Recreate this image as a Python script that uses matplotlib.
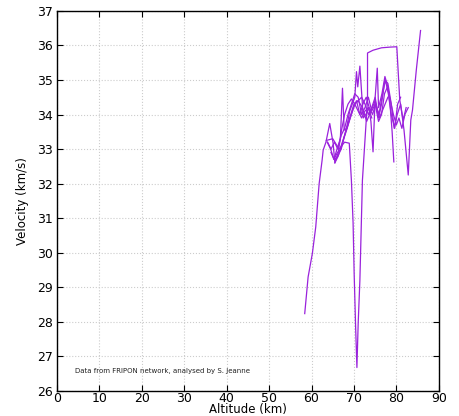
import matplotlib.pyplot as plt
import numpy as np

# velocity tracks (altitude km, velocity km/s)
alt_1 = [58.4, 59.2, 60.2, 61.0, 61.8, 62.5, 62.75, 63.4, 64.3, 65.1, 65.5, 66.3, 67.0, 67.8, 68.6, 69.4, 70.2, 71.0, 71.8, 72.6, 73.4, 74.2]
vel_1 = [28.24, 29.3, 29.98, 30.75, 32.0, 32.68, 32.97, 33.2, 33.74, 33.16, 32.6, 32.9, 33.5, 34.0, 34.3, 34.45, 34.3, 34.1, 33.9, 34.1, 34.2, 33.9]

alt_2 = [82.3, 81.6, 80.8, 80.1, 78.5, 76.5, 74.5, 73.2, 73.2, 72.0, 71.4, 71.0, 70.7, 70.4, 70.05, 69.8, 69.4, 68.9, 67.8, 66.5, 65.0, 63.5]
vel_2 = [34.2, 33.84, 34.42, 35.96, 35.95, 35.93, 35.86, 35.78, 34.42, 32.1, 29.2, 27.96, 26.68, 27.84, 29.4, 30.86, 32.1, 33.17, 33.2, 33.0, 33.3, 33.25]

alt_3 = [85.7, 84.7, 83.8, 83.4, 82.8, 81.8, 81.0, 80.2, 79.5, 78.8, 78.0, 77.3, 76.5, 75.8, 75.0, 74.2, 73.4, 72.6, 71.8, 71.0, 70.2, 69.4, 68.6, 67.8, 67.0, 66.2, 65.5]
vel_3 = [36.43, 35.29, 34.13, 33.84, 32.25, 33.55, 34.3, 34.0, 33.6, 34.3, 34.9, 35.0, 34.3, 33.9, 34.5, 34.2, 34.0, 34.3, 34.5, 34.4, 34.3, 34.0, 33.7, 33.4, 33.0, 32.8, 32.7]

alt_4 = [78.0, 77.0, 76.0, 75.0, 74.0, 73.0, 72.0, 71.0, 70.0, 69.0, 68.3, 67.7, 67.3, 66.8, 66.0, 65.3, 64.6]
vel_4 = [34.5, 34.2, 33.9, 34.4, 34.1, 33.8, 34.2, 34.4, 34.3, 33.9, 33.6, 33.55, 34.76, 33.3, 33.0, 32.7, 32.9]

alt_5 = [79.4, 79.0, 78.5, 78.0, 77.3, 76.6, 75.8, 75.5, 75.0, 74.5, 74.0, 73.5, 72.8, 72.2, 71.4, 70.9, 70.6, 70.2, 69.6, 69.0, 68.4, 67.8, 67.0, 66.3, 65.5]
vel_5 = [32.63, 33.5, 34.3, 34.8, 35.1, 34.6, 34.2, 35.34, 34.5, 32.92, 33.8, 34.2, 34.0, 33.9, 35.4, 34.8, 35.24, 34.5, 34.3, 34.1, 33.7, 33.4, 33.1, 32.8, 32.6]

alt_6 = [82.8, 82.0, 81.3, 80.6, 80.0, 79.3, 78.6, 77.9, 77.2, 76.5, 75.8, 75.0, 74.2, 73.4, 72.6, 71.8, 71.0, 70.2, 69.4, 68.6, 67.8, 67.0, 66.2, 65.4, 64.6, 63.8]
vel_6 = [34.2, 34.0, 33.6, 33.9, 33.7, 34.0, 34.4, 34.8, 34.6, 34.0, 33.8, 34.3, 34.1, 34.5, 34.2, 34.0, 34.5, 34.6, 34.3, 34.0, 33.6, 33.4, 33.0, 33.2, 33.0, 33.2]

alt_7 = [81.0, 80.3, 79.6, 78.8, 78.1, 77.4, 76.6, 75.9, 75.1, 74.4, 73.6, 72.9, 72.1, 71.4, 70.6, 69.9, 69.1, 68.4, 67.6, 66.9, 66.1, 65.3, 64.5, 63.7]
vel_7 = [34.5, 34.3, 33.6, 34.0, 34.6, 35.0, 34.5, 34.0, 34.3, 34.0, 34.2, 34.5, 34.3, 34.0, 34.4, 34.2, 33.9, 33.6, 33.3, 33.0, 32.9, 32.7, 33.0, 33.2]

tracks = [(alt_1, vel_1), (alt_2, vel_2), (alt_3, vel_3), (alt_4, vel_4),
          (alt_5, vel_5), (alt_6, vel_6), (alt_7, vel_7)]

fig = plt.figure(figsize=(4.59, 4.16), dpi=100)
ax = fig.add_axes([0.124, 0.060, 0.832, 0.914])

for a, v in tracks:
    ax.plot(a, v, color='#9a22dc', lw=0.9)

ax.set_xlim(0, 90)
ax.set_ylim(26, 37)
ax.set_xticks(np.arange(0, 91, 10))
ax.set_yticks(np.arange(26, 38, 1))
ax.grid(True, color='#cccccc', linestyle=':', linewidth=0.8)
ax.tick_params(direction='in', top=True, right=True, labelsize=9, length=4)
ax.tick_params(axis='x', pad=1)
ax.tick_params(axis='y', pad=3)
for s in ax.spines.values():
    s.set_linewidth(1.0)
ax.set_xlabel('Altitude (km)', fontsize=8.5, labelpad=-2)
ax.set_ylabel('Velocity (km/s)', fontsize=8.5, labelpad=6)
ax.text(0.047, 0.047, 'Data from FRIPON network, analysed by S. Jeanne',
        transform=ax.transAxes, fontsize=5, color='#222222')

fig.savefig('out.png', dpi=100)
